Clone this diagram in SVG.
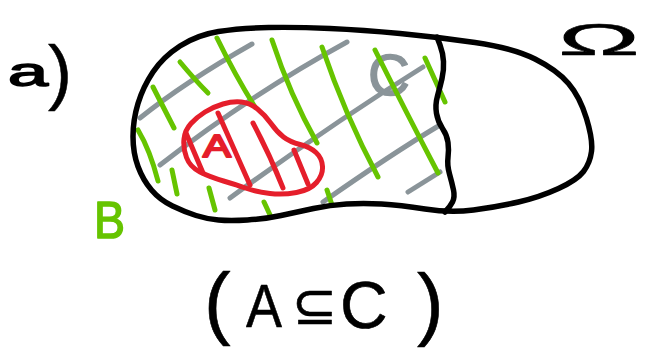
<svg xmlns="http://www.w3.org/2000/svg" width="648" height="351" viewBox="0 0 648 351">
<style>
.gy{fill:none;stroke:#8a9499;stroke-width:5;stroke-linecap:round;stroke-linejoin:round}
.gn{fill:none;stroke:#66c400;stroke-width:5;stroke-linecap:round;stroke-linejoin:round}
.rd{fill:none;stroke:#e51e2b;stroke-width:5;stroke-linecap:round;stroke-linejoin:round}
.bk{fill:none;stroke:#000;stroke-width:5.5;stroke-linecap:round;stroke-linejoin:round}
.t{font-family:"Liberation Sans","DejaVu Sans",sans-serif;stroke-linejoin:round;stroke-linecap:round}
.tb{fill:#000;stroke:#000}
</style>
<rect width="648" height="351" fill="#fff"/>
<g id="hatch-gray">
<path class="gy" d="M140,118 Q185,82 252,44"/>
<path class="gy" d="M160,165 Q250,95 347,42"/>
<path class="gy" d="M230,198 Q330,125 423,67"/>
<path class="gy" d="M323,202 Q390,155 440,125"/>
<path class="gy" d="M408,192 L440,172"/>
<text class="t" x="368" y="95" font-size="58" fill="#8a9499" stroke="#8a9499" stroke-width="1.5">C</text>
</g>
<g id="hatch-green">
<path class="gn" d="M180,62 Q195,80 208,93"/>
<path class="gn" d="M217,38 Q235,75 255,107"/>
<path class="gn" d="M272,40 Q290,95 317,143"/>
<path class="gn" d="M322,47 Q345,115 378,177"/>
<path class="gn" d="M375,50 Q405,110 438,173"/>
<path class="gn" d="M425,58 L445,102"/>
<path class="gn" d="M153,87 L174,128"/>
<path class="gn" d="M138,130 Q150,150 158,181"/>
<path class="gn" d="M172,170 L177,194"/>
<path class="gn" d="M209,188 L215,210"/>
<path class="gn" d="M264,202 L271,217"/>
<path class="gn" d="M327,190 L332,205"/>
</g>
<g id="set-A">
<path class="rd" d="M184,139 Q185,130 191,123.5 Q197,117 205,112 Q213,107 223,104 Q233,101 241.5,102 Q250,103 257.5,109 Q265,115 271,123.5 Q277,132 283.5,137 Q290,142 300,144.5 Q310,147 316,152.5 Q322,158 322.5,166.5 Q323,175 316.5,182.5 Q310,190 296.5,192.5 Q283,195 270,193.5 Q257,192 247,188.5 Q237,185 223.5,181 Q210,177 200,172 Q190,167 186.5,157.5 Q183,148 184,139 Z"/>
<path class="rd" d="M186,133 L203,173"/>
<path class="rd" d="M218,113 L250,185"/>
<path class="rd" d="M253,123 Q270,155 283,188"/>
<path class="rd" d="M294,150 L308,184"/>
<text class="t" x="203" y="157" font-size="32" textLength="28" lengthAdjust="spacingAndGlyphs" fill="#e51e2b" stroke="#e51e2b" stroke-width="2">A</text>
</g>
<g id="omega">
<path class="bk" d="M400,33.5 Q437,37 475,42.5 Q513,48 535,59 Q557,70 568.5,83.5 Q580,97 586.5,118.5 Q593,140 591.5,151.5 Q590,163 583.5,171.5 Q577,180 558.5,188.5 Q540,197 518.5,202 Q497,207 473.5,210 Q450,213 425,209 Q400,205 381.5,204 Q363,203 346.5,204 Q330,205 313.5,208.5 Q297,212 281,215.5 Q265,219 247.5,220 Q230,221 218.5,220 Q207,219 196,215.5 Q185,212 172.5,206 Q160,200 151.5,190 Q143,180 138,166.5 Q133,153 133,136.5 Q133,120 138,103.5 Q143,87 153,72 Q163,57 180,46 Q197,35 218.5,31.5 Q240,28 268.5,27.5 Q297,27 330,28.5 Q363,30 400,33.5 Z"/>
<path class="bk" d="M437,37 L440,45 Q443,53 443.5,61.5 Q444,70 442,78.5 Q440,87 437.5,96 Q435,105 436.5,113.5 Q438,122 442.5,128.5 Q447,135 448,142.5 Q449,150 448,157.5 Q447,165 449.5,174 Q452,183 453.5,190 Q455,197 452.5,202 Q450,207 445,212"/>
</g>
<g id="labels">
<text class="t tb" font-size="40" stroke-width="1.5"><tspan x="8" y="86" textLength="40" lengthAdjust="spacingAndGlyphs">a</tspan><tspan x="48" y="96" font-size="72" stroke-width="0.5">)</tspan></text>
<text class="t tb" x="558" y="55" font-size="44" textLength="82" lengthAdjust="spacingAndGlyphs" stroke-width="0.5">Ω</text>
<text class="t" x="94" y="238" font-size="52" textLength="31" lengthAdjust="spacingAndGlyphs" fill="#66c400" stroke="#66c400" stroke-width="1.5">B</text>
<text class="t tb" stroke-width="0.6"><tspan x="204" y="329" font-size="80">(</tspan><tspan x="246" y="327" font-size="62" textLength="36" lengthAdjust="spacingAndGlyphs">A</tspan><tspan x="292" y="324" font-size="54">⊆</tspan><tspan x="340" y="328" font-size="66">C</tspan><tspan x="417" y="330" font-size="80">)</tspan></text>
</g>
</svg>
